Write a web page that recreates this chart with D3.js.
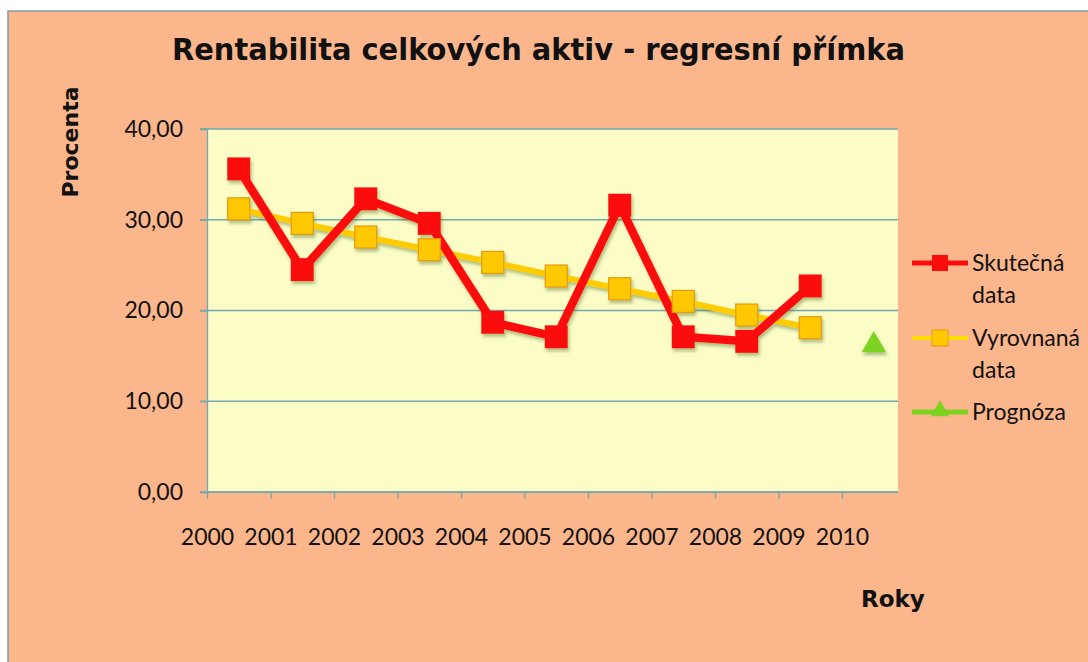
<!DOCTYPE html>
<html>
<head>
<meta charset="utf-8">
<script src="https://cdn.jsdelivr.net/npm/d3@7"></script>
<style>
  html, body { margin: 0; padding: 0; background: #fff; }
  svg { display: block; }
</style>
</head>
<body>
<svg id="chart" width="1088" height="662"></svg>
<script>
// data
var years    = [2000, 2001, 2002, 2003, 2004, 2005, 2006, 2007, 2008, 2009, 2010];
var actual   = [35.6, 24.5, 32.3, 29.6, 18.7, 17.1, 31.6, 17.1, 16.6, 22.7];
var fitted   = [31.2, 29.6, 28.1, 26.7, 25.3, 23.8, 22.4, 21.0, 19.5, 18.1];
var forecast = [16.3];           // year 2010
var forecastYears = [2010];
var yTicks   = [0, 10, 20, 30, 40];

var seriesNames = ["Skutečná\ndata", "Vyrovnaná\ndata", "Prognóza"];

var svg = d3.select("#chart");
var width = +svg.attr("width"), height = +svg.attr("height");

var plot = { left: 207, top: 129, right: 898, bottom: 492 };
var labelFont = "Lato, 'Open Sans', sans-serif";
var boldFont = "'DejaVu Sans', Verdana, sans-serif";

// x: one slot per year, labels sit on the slot edges (Excel style)
var x = d3.scaleLinear().domain([2000, 2011]).range([plot.left, plot.left + 63.5 * 11]);
var y = d3.scaleLinear().domain([0, 40]).range([plot.bottom, plot.top]);
var cx = function(yr) { return x(yr + 0.5); };

var fmt = function(d) { return d3.format(".2f")(d).replace(".", ","); };

/*
  defs
*/
var defs = svg.append("defs");
defs.append("filter")
    .attr("id", "shadow")
    .attr("x", "-30%").attr("y", "-30%")
    .attr("width", "160%").attr("height", "160%")
  .append("feDropShadow")
    .attr("dx", 1.5).attr("dy", 3)
    .attr("stdDeviation", 1.6)
    .attr("flood-color", "#5b7a32")
    .attr("flood-opacity", 0.45);

// chart background + border
svg.append("rect")
    .attr("x", 8).attr("y", 11)
    .attr("width", width).attr("height", height)
    .attr("fill", "#fcb68b")
    .attr("stroke", "#7f9c9c")
    .attr("stroke-width", 1.5);

// plot area
svg.append("rect")
    .attr("x", plot.left).attr("y", plot.top)
    .attr("width", plot.right - plot.left)
    .attr("height", plot.bottom - plot.top)
    .attr("fill", "#fbfcc6");

// gridlines
svg.append("g")
    .selectAll("line")
    .data(yTicks)
    .enter().append("line")
    .attr("x1", plot.left - 7).attr("x2", plot.right)
    .attr("y1", function(d) { return y(d); })
    .attr("y2", function(d) { return y(d); })
    .attr("stroke", "#74a9ab")
    .attr("stroke-width", 1.3);

// y axis
var yAxis = svg.append("g")
    .attr("transform", "translate(" + plot.left + ",0)")
    .call(d3.axisLeft(y).tickValues(yTicks).tickFormat(fmt).tickSize(7).tickPadding(17));
yAxis.select(".domain").attr("stroke", "#74a9ab").attr("stroke-width", 1.3);
yAxis.selectAll(".tick line").attr("stroke", "#74a9ab").attr("stroke-width", 1.3);
yAxis.selectAll("text")
    .attr("font-family", labelFont)
    .attr("font-size", 23)
    .attr("fill", "#111");

// x axis
var xAxis = svg.append("g")
    .attr("transform", "translate(0," + plot.bottom + ")")
    .call(d3.axisBottom(x).tickValues(years).tickFormat(d3.format("d")).tickSize(7).tickPadding(30));
xAxis.select(".domain").remove();
xAxis.append("line")
    .attr("x1", plot.left).attr("x2", plot.right)
    .attr("stroke", "#74a9ab").attr("stroke-width", 1.3);
xAxis.selectAll(".tick line").attr("stroke", "#74a9ab").attr("stroke-width", 1.3);
xAxis.selectAll("text")
    .attr("font-family", labelFont)
    .attr("font-size", 23)
    .attr("fill", "#111");

/*
  series
*/
var line = d3.line()
    .x(function(d, i) { return cx(years[i]); })
    .y(function(d) { return y(d); });

var series = svg.append("g").attr("filter", "url(#shadow)");

series.append("path")
    .datum(fitted)
    .attr("d", line)
    .attr("fill", "none")
    .attr("stroke", "#ffcc00")
    .attr("stroke-width", 6)
    .attr("stroke-linejoin", "round");

series.append("path")
    .datum(actual)
    .attr("d", line)
    .attr("fill", "none")
    .attr("stroke", "#fb0d0d")
    .attr("stroke-width", 8.5)
    .attr("stroke-linejoin", "round");

var sq = 23;
series.append("g")
    .selectAll("rect")
    .data(actual)
    .enter().append("rect")
    .attr("x", function(d, i) { return cx(years[i]) - sq / 2; })
    .attr("y", function(d) { return y(d) - sq / 2; })
    .attr("width", sq).attr("height", sq)
    .attr("fill", "#fb0d0d");

series.append("g")
    .selectAll("rect")
    .data(fitted)
    .enter().append("rect")
    .attr("x", function(d, i) { return cx(years[i]) - sq / 2 + 0.5; })
    .attr("y", function(d) { return y(d) - sq / 2 + 0.5; })
    .attr("width", sq - 1).attr("height", sq - 1)
    .attr("fill", "#ffc800")
    .attr("stroke", "#e39b0c")
    .attr("stroke-width", 1.2);

var tri = d3.symbol().type(d3.symbolTriangle).size(260);
series.append("g")
    .selectAll("path")
    .data(forecast)
    .enter().append("path")
    .attr("d", tri)
    .attr("transform", function(d, i) {
        return "translate(" + cx(forecastYears[i]) + "," + (y(d) + 1) + ")";
    })
    .attr("fill", "#7ed321");

/*
  legend
*/
var legend = svg.append("g").attr("transform", "translate(912,0)");
var legendRows = [
    { name: seriesNames[0], y: 263, color: "#fb0d0d", w: 5, marker: "sq", fill: "#fb0d0d" },
    { name: seriesNames[1], y: 338, color: "#ffdd00", w: 4, marker: "sq", fill: "#ffc800" },
    { name: seriesNames[2], y: 412, color: "#7ed321", w: 5, marker: "tri", fill: "#7ed321" }
];

var row = legend.selectAll("g.row")
    .data(legendRows)
    .enter().append("g")
    .attr("class", "row")
    .attr("transform", function(d) { return "translate(0," + d.y + ")"; });

row.append("line")
    .attr("x1", 0).attr("x2", 56)
    .attr("stroke", function(d) { return d.color; })
    .attr("stroke-width", function(d) { return d.w; });

row.filter(function(d) { return d.marker === "sq"; })
    .append("rect")
    .attr("x", 20).attr("y", -8)
    .attr("width", 16).attr("height", 16)
    .attr("fill", function(d) { return d.fill; })
    .attr("stroke", function(d, i) { return i === 1 ? "#e39b0c" : "none"; });

row.filter(function(d) { return d.marker === "tri"; })
    .append("path")
    .attr("d", d3.symbol().type(d3.symbolTriangle).size(150))
    .attr("transform", "translate(28,-1)")
    .attr("fill", function(d) { return d.fill; });

row.append("text")
    .attr("x", 60)
    .attr("font-family", labelFont)
    .attr("font-size", 23)
    .attr("fill", "#111")
    .selectAll("tspan")
    .data(function(d) { return d.name.split("\n"); })
    .enter().append("tspan")
    .attr("x", 60)
    .attr("y", function(d, i) { return 8 + i * 32; })
    .text(function(d) { return d; });

/*
  titles
*/
svg.append("text")
    .attr("x", 172).attr("y", 60)
    .attr("font-family", boldFont)
    .attr("font-weight", "bold")
    .attr("font-size", 30)
    .attr("textLength", 733)
    .attr("lengthAdjust", "spacingAndGlyphs")
    .attr("fill", "#111")
    .text("Rentabilita celkových aktiv - regresní přímka");

svg.append("text")
    .attr("transform", "translate(78,142) rotate(-90)")
    .attr("text-anchor", "middle")
    .attr("font-family", boldFont)
    .attr("font-weight", "bold")
    .attr("font-size", 22)
    .attr("fill", "#111")
    .text("Procenta");

svg.append("text")
    .attr("x", 861).attr("y", 607)
    .attr("font-family", boldFont)
    .attr("font-weight", "bold")
    .attr("font-size", 23)
    .attr("fill", "#111")
    .text("Roky");
</script>
</body>
</html>
